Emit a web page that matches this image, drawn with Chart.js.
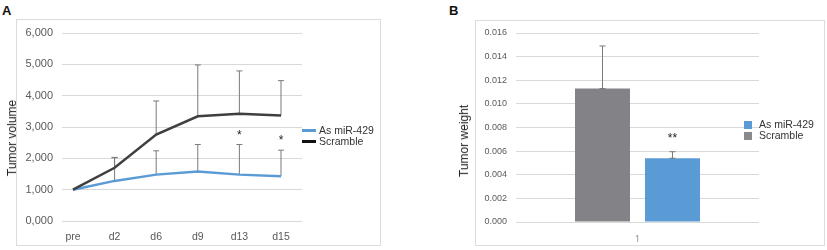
<!DOCTYPE html>
<html lang="en">
<head>
<meta charset="UTF-8">
<title>Tumor volume / Tumor weight</title>
<script src="https://cdn.jsdelivr.net/npm/chart.js"></script>
<style>
  body { margin: 0; background: #fff; font-family: "Liberation Sans", Arial, sans-serif; }
  .page { position: relative; width: 827px; height: 250px; overflow: hidden; }
  .frame { position: absolute; border: 1px solid #dcdcdc; box-sizing: border-box; }
  .box { position: absolute; }
  .panel-label { position: absolute; font-weight: bold; font-size: 13px; color: #111; }
  .ytitle { position: absolute; font-size: 12px; color: #222; white-space: nowrap;
            transform: translate(-50%, -50%) rotate(-90deg); }
  .legend { position: absolute; font-size: 10.5px; color: #333; line-height: 11px; }
  .legend div { display: flex; align-items: center; height: 11px; }
  .swatch-line { width: 14px; height: 3px; margin-right: 3px; }
  .swatch-box { width: 8px; height: 8px; margin-right: 7px; }
</style>
</head>
<body>
<div class="page">
  <!-- A -->
  <div class="panel-label" style="left:2px; top:3px;">A</div>
  <div class="frame" style="left:16px; top:19px; width:365px; height:227px;"></div>
  <div class="box" style="left:0; top:0; width:420px; height:250px;"><canvas id="volChart"></canvas></div>
  <div class="ytitle" style="left:12px; top:138px;">Tumor volume</div>
  <div class="legend" style="left:302px; top:125px;">
    <div><span class="swatch-line" style="background:#5b9bd5"></span>As miR-429</div>
    <div><span class="swatch-line" style="background:#111"></span>Scramble</div>
  </div>

  <!-- B -->
  <div class="panel-label" style="left:449px; top:3px;">B</div>
  <div class="frame" style="left:475px; top:20px; width:350px; height:226px;"></div>
  <div class="box" style="left:420px; top:0; width:407px; height:250px;"><canvas id="wtChart"></canvas></div>
  <div class="ytitle" style="left:464px; top:141px;">Tumor weight</div>
  <div class="legend" style="left:744px; top:119px;">
    <div><span class="swatch-box" style="background:#5b9bd5"></span>As miR-429</div>
    <div><span class="swatch-box" style="background:#8a8a8e"></span>Scramble</div>
  </div>
</div>

<script>
// ---- data ----
const days = ['pre', 'd2', 'd6', 'd9', 'd13', 'd15'];
const volAs = [1.00, 1.28, 1.48, 1.58, 1.48, 1.43];
const volAsSD = [0, 0.75, 0.76, 0.86, 0.96, 0.83];
const volScr = [1.00, 1.70, 2.76, 3.34, 3.42, 3.37];
const volScrSD = [0, 0.32, 1.07, 1.64, 1.37, 1.11];
const volStars = ['', '', '', '', '*', '*'];

const groups = ['1'];
const wtScr = [0.0113];
const wtScrSD = [0.0036];
const wtAs = [0.0054];
const wtAsSD = [0.00055];
const wtStars = ['**'];

const tickColor = '#595959';
const gridColor = '#d9d9d9';

// error bars (upper only) + significance stars, drawn through the chart scales
const errorBars = {
    id: 'errorBars',
    beforeDatasetsDraw(chart, args, opts) { if (opts.under) drawErrors(chart, opts); },
    afterDatasetsDraw(chart, args, opts) { if (!opts.under) drawErrors(chart, opts); }
};

function drawErrors(chart, opts) {
    const ctx = chart.ctx;
    const y = chart.scales.y;
    ctx.save();
    chart.data.datasets.forEach((ds, d) => {
        const errs = opts.errors[d] || [];
        const stars = (opts.stars || [])[d] || [];
        const meta = chart.getDatasetMeta(d);
        ds.data.forEach((pt, i) => {
            const v = (typeof pt === 'object') ? pt.y : pt;
            const x = meta.data[i].x;
            const top = y.getPixelForValue(v + (errs[i] || 0));
            if (errs[i]) {
                const base = y.getPixelForValue(v);
                ctx.strokeStyle = '#7a7a7a';
                ctx.lineWidth = 1;
                ctx.beginPath();
                ctx.moveTo(x, base);
                ctx.lineTo(x, top);
                ctx.moveTo(x - 3, top);
                ctx.lineTo(x + 3, top);
                if (opts.baseCap) {
                    ctx.moveTo(x - 3, base);
                    ctx.lineTo(x + 3, base);
                }
                ctx.stroke();
            }
            if (stars[i]) {
                ctx.fillStyle = '#222';
                ctx.font = '12px "Liberation Sans", Arial';
                ctx.textAlign = 'center';
                ctx.textBaseline = 'middle';
                ctx.fillText(stars[i], x, top - opts.starGap);
            }
        });
    });
    ctx.restore();
}

// ---- A: tumor volume ----
new Chart(document.getElementById('volChart'), {
    type: 'line',
    data: {
        datasets: [
            {
                label: 'Scramble',
                data: volScr.map((v, i) => ({ x: i, y: v })),
                borderColor: '#3f3f3f',
                borderWidth: 2.5
            },
            {
                label: 'As miR-429',
                data: volAs.map((v, i) => ({ x: i, y: v })),
                borderColor: '#5b9bd5',
                borderWidth: 2.5
            }
        ]
    },
    options: {
        responsive: true,
        maintainAspectRatio: false,
        animation: false,
        elements: { point: { radius: 0 }, line: { tension: 0 } },
        layout: { padding: { left: 0, right: 118, top: 33, bottom: 4 } },
        scales: {
            x: {
                type: 'linear',
                min: -0.264,
                max: 5.505,
                grid: { display: false },
                border: { display: false },
                afterBuildTicks: s => { s.ticks = days.map((d, i) => ({ value: i })); },
                afterFit: s => { s.height = 25; },
                ticks: {
                    padding: 2,
                    color: tickColor,
                    font: { size: 10.5, family: '"Liberation Sans", Arial' },
                    callback: v => days[v]
                }
            },
            y: {
                min: 0,
                max: 6,
                grid: { color: gridColor, drawTicks: false },
                border: { display: false },
                afterFit: s => { s.width = 62; },
                ticks: {
                    stepSize: 1,
                    padding: 9,
                    color: tickColor,
                    font: { size: 11, family: '"Liberation Sans", Arial' },
                    callback: v => v.toFixed(3).replace('.', ',')
                }
            }
        },
        plugins: {
            legend: { display: false },
            tooltip: { enabled: false },
            errorBars: {
                under: true,
                errors: [volScrSD, volAsSD],
                stars: [[], volStars],
                starGap: 9
            }
        }
    },
    plugins: [errorBars]
});

// ---- B: tumor weight ----
new Chart(document.getElementById('wtChart'), {
    type: 'bar',
    data: {
        labels: groups,
        datasets: [
            { label: 'Scramble', data: wtScr, backgroundColor: '#838387' },
            { label: 'As miR-429', data: wtAs, backgroundColor: '#5b9bd5' }
        ]
    },
    options: {
        responsive: true,
        maintainAspectRatio: false,
        animation: false,
        categoryPercentage: 0.576,
        barPercentage: 0.786,
        layout: { padding: { left: 0, right: 68, top: 33, bottom: 8 } },
        scales: {
            x: {
                grid: { display: false },
                border: { display: false },
                afterFit: s => { s.height = 20; },
                ticks: {
                    padding: 4,
                    color: '#9a9a9a',
                    font: { size: 10, family: '"Liberation Sans", Arial' }
                }
            },
            y: {
                min: 0,
                max: 0.016,
                grid: { color: gridColor, drawTicks: false },
                border: { display: false },
                afterFit: s => { s.width = 96; },
                ticks: {
                    stepSize: 0.002,
                    padding: 9,
                    color: tickColor,
                    font: { size: 9, family: '"Liberation Sans", Arial' },
                    callback: v => v.toFixed(3)
                }
            }
        },
        plugins: {
            legend: { display: false },
            tooltip: { enabled: false },
            errorBars: {
                under: false,
                baseCap: true,
                errors: [wtScrSD, wtAsSD],
                stars: [[], wtStars],
                starGap: 13
            }
        }
    },
    plugins: [errorBars]
});
</script>
</body>
</html>
